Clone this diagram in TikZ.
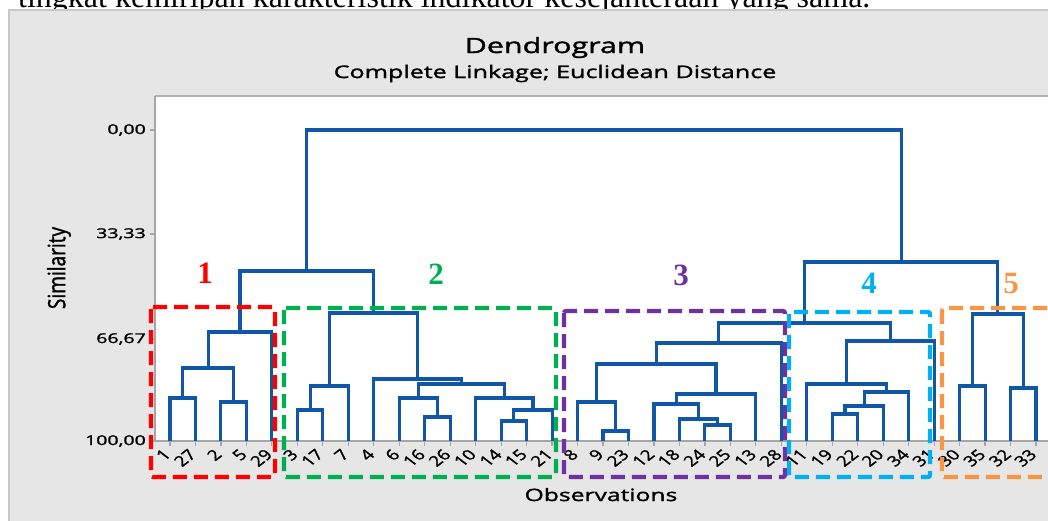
\documentclass[tikz,border=0pt]{standalone}
\usepackage{fontspec}
\usepackage{graphicx}
\usetikzlibrary{calc}
\newfontfamily\osans[FakeStretch=1.45,FakeBold=1.6]{Open Sans}
\newfontfamily\osplain[FakeBold=1.6]{Open Sans}
\newfontfamily\tms{Liberation Serif}
\definecolor{dblue}{HTML}{1057A7}
\definecolor{panelgrey}{HTML}{E6E6E6}
\definecolor{cred}{HTML}{FF0000}
\definecolor{cgreen}{HTML}{00B050}
\definecolor{cpurple}{HTML}{7030A0}
\definecolor{ccyan}{HTML}{00B0F0}
\definecolor{corange}{HTML}{F79646}
\tikzset{
  br/.style={draw=dblue, line width=3.1pt},
  axisln/.style={draw=black!35, line width=1.2pt},
  clbox/.style={line width=4.2pt, dash pattern=on 14pt off 7pt, rounded corners=2pt},
  cnum/.style={font=\tms\bfseries\fontsize{31}{31}\selectfont, inner sep=0pt},
  leaflab/.style={font=\osplain\fontsize{14.5}{14.5}\selectfont, inner sep=0pt, anchor=north east},
  ticklab/.style={font=\osans\fontsize{13.5}{13.5}\selectfont, inner sep=0pt, anchor=east},
}
\newcommand\mrg[4]{%
  \coordinate (#3x) at ($(#1)!.5!(#2)$);
  \coordinate (#3y) at (0,#4);
  \coordinate (#3) at (#3x |- #3y);
  \draw[br] (#1) |- (#3) -| (#2);
}
\begin{document}
\begin{tikzpicture}[x=1pt,y=-1pt]
\useasboundingbox (0,0) rectangle (1048,520);
\fill[white] (0,0) rectangle (1048,520);
% cut-off line of the surrounding text
\node[font=\tms\fontsize{32}{32}\selectfont, anchor=base west, inner sep=0pt] (toptext) at (18,7)
  {tingkat kemiripan karakteristik indikator kesejahteraan yang sama.};
% panel
\fill[panelgrey] (9,10) rectangle (1070,540);
\draw[black!22, line width=1.2pt] (9,540) -- (9,10) -- (1070,10);
% plot area
\fill[white] (155,96) rectangle (1070,441);
\draw[black!30, line width=1.5pt] (155,96) -- (1070,96);
\draw[axisln] (155,96) -- (155,441) -- (1070,441);
% y ticks and labels
\draw[axisln] (150,130) -- (155,130);
\draw[axisln] (150,234) -- (155,234);
\draw[axisln] (150,339) -- (155,339);
\draw[axisln] (150,441) -- (155,441);
\node[ticklab] (y0) at (146,130) {0,00};
\node[ticklab] (y1) at (146,234) {33,33};
\node[ticklab] (y2) at (146,339) {66,67};
\node[ticklab] (y3) at (146,441) {100,00};
\node (ylab) at (59,268) {\scalebox{1.4}[1.12]{\rotatebox{90}{\osplain\fontsize{17}{20}\selectfont Similarity}}};
% leaves
\foreach \lab [count=\i from 0] in {1,27,2,5,29,3,17,7,4,6,16,26,10,14,15,21,8,9,23,12,18,24,25,13,28,11,19,22,20,34,31,30,35,32,33}{
  \coordinate (L\lab) at ({170+25.471*\i},441);
  \draw[axisln] (L\lab) -- ++(0,5);
  \node[leaflab] (t\lab) at ($(L\lab)+(2,7)$) {\scalebox{1.3}[1]{\rotatebox{45}{\lab}}};
}
% cluster 1
\mrg{L1}{L27}{a1}{398}
\mrg{L2}{L5}{a2}{402}
\mrg{a1}{a2}{a3}{368}
\mrg{a3}{L29}{c1}{332}
% cluster 2
\mrg{L3}{L17}{b1}{410}
\mrg{b1}{L7}{b2}{386}
\mrg{L16}{L26}{b3}{417}
\mrg{L6}{b3}{b4}{398}
\mrg{L14}{L15}{b5}{421}
\mrg{b5}{L21}{b6}{410}
\mrg{L10}{b6}{b7}{398}
\mrg{b4}{b7}{b8}{384}
\mrg{L4}{b8}{b9}{379}
\mrg{b2}{b9}{c2}{313}
\mrg{c1}{c2}{c12}{271}
% cluster 3
\mrg{L9}{L23}{d1}{431}
\mrg{L8}{d1}{d2}{402}
\mrg{L24}{L25}{d3}{425}
\mrg{L18}{d3}{d4}{419}
\mrg{L12}{d4}{d5}{404}
\mrg{d5}{L13}{d6}{394}
\mrg{d2}{d6}{d7}{364}
\mrg{d7}{L28}{c3}{343}
% cluster 4
\mrg{L19}{L22}{e1}{414}
\mrg{e1}{L20}{e2}{406}
\mrg{e2}{L34}{e3}{392}
\mrg{L11}{e3}{e4}{384}
\mrg{e4}{L31}{c4}{341}
\mrg{c3}{c4}{c34}{323}
% cluster 5
\mrg{L30}{L35}{f1}{386}
\mrg{L32}{L33}{f2}{388}
\mrg{f1}{f2}{c5}{314}
\mrg{c34}{c5}{c345}{262}
\mrg{c12}{c345}{root}{130}
% cluster boxes
\draw[clbox, cred] (151,307) rectangle (275,477);
\draw[clbox, cgreen] (284,308) rectangle (556,477);
\draw[clbox, cpurple] (564,311) rectangle (785,477);
\draw[clbox, ccyan] (789,312) rectangle (930,477);
\draw[clbox, corange] (942,308) rectangle (1080,477);
% cluster numbers
\node[cnum, text=cred] (n1) at (205,273) {1};
\node[cnum, text=cgreen] (n2) at (436,274) {2};
\node[cnum, text=cpurple] (n3) at (681,275) {3};
\node[cnum, text=ccyan] (n4) at (869,283) {4};
\node[cnum, text=corange] (n5) at (1011,283) {5};
% titles
\node[font=\osans\fontsize{21}{25}\selectfont, anchor=base, inner sep=0pt] (title) at (555,53) {Dendrogram};
\node[font=\osans\fontsize{17.3}{20}\selectfont, anchor=base, inner sep=0pt] (subtitle) at (555,78) {Complete Linkage; Euclidean Distance};
\node[font=\osans\fontsize{17}{20}\selectfont, anchor=base, inner sep=0pt] (xlab) at (601,501) {Observations};
\end{tikzpicture}
\end{document}
